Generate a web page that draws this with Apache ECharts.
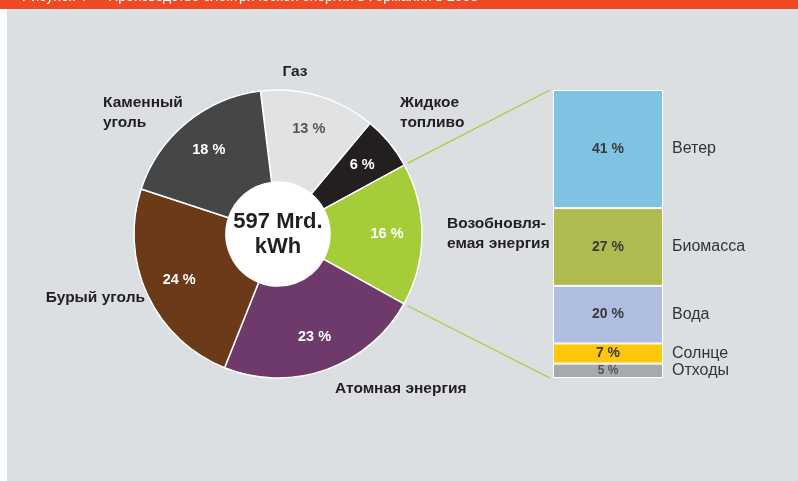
<!DOCTYPE html>
<html>
<head>
<meta charset="utf-8">
<title>echart</title>
<script src="https://cdn.jsdelivr.net/npm/echarts@6/dist/echarts.min.js"></script>
<style>
  html, body { margin: 0; padding: 0; background: #fff; }
  #main { width: 798px; height: 481px; }
</style>
</head>
<body>
<div id="main"></div>
<script>
  // структура производства (%)
  var pieNames = ['Газ', 'Жидкое топливо', 'Возобновляемая энергия', 'Атомная энергия', 'Бурый уголь', 'Каменный уголь'];
  var pieValues = [13, 6, 16, 23, 24, 18];
  var pieColors = ['#e1e2e4', '#231f20', '#a5cd39', '#6d3a6b', '#6b3a18', '#454648'];
  var pieLabelColors = ['#555658', '#fff', '#fff', '#fff', '#fff', '#fff'];

  // возобновляемая энергия, сверху вниз
  var renNames = ['Ветер', 'Биомасса', 'Вода', 'Солнце', 'Отходы'];
  var renValues = [41, 27, 20, 7, 5];
  var renColors = ['#7fc3e2', '#afbb4e', '#aebde0', '#ffc709', '#a7a9ac'];

  var totalText = '597 Mrd.\nkWh';
  var titleText = 'Рисунок 4 — Производство электрической энергии в Германии в 2008';

  var cx = 278, cy = 234, R = 144, R0 = 52, startAngle = 97;
  var gridLeft = 553, gridTop = 90, gridW = 110, gridH = 288;
  var font = 'Liberation Sans, Arial, sans-serif';

  var chart = echarts.init(document.getElementById('main'));

  var pieData = pieNames.map(function (n, i) {
    return { name: n, value: pieValues[i], itemStyle: { color: pieColors[i] } };
  });
  var pieLabelData = pieNames.map(function (n, i) {
    return { name: n, value: pieValues[i], label: { color: pieLabelColors[i] } };
  });

  // столбик: снизу вверх
  var barSeries = [];
  for (var i = renNames.length - 1; i >= 0; i--) {
    barSeries.push({
      type: 'bar',
      name: renNames[i],
      stack: 'ren',
      data: [renValues[i]],
      barWidth: '100%',
      itemStyle: { color: renColors[i], borderColor: '#fff', borderWidth: 1 },
      label: {
        show: true,
        position: 'insideLeft',
        distance: 0,
        formatter: '{p|' + renValues[i] + ' %}{n|' + renNames[i] + '}',
        rich: {
          p: { width: gridW, align: 'center', fontFamily: font, fontWeight: 'bold',
               fontSize: renValues[i] < 6 ? 12 : 14, color: renValues[i] < 6 ? '#555' : '#3a3a3c' },
          n: { padding: [0, 0, 0, 9], fontFamily: font, fontSize: 16, color: '#333' }
        }
      },
      silent: true
    });
  }

  var nameStyle = { fontFamily: font, fontWeight: 'bold', fontSize: 15.5, fill: '#231f20', lineHeight: 20 };
  function txt(x, y, text, align) {
    return { type: 'text', x: x, y: y, z: 10,
      style: Object.assign({ text: text, align: align || 'left', verticalAlign: 'middle' }, nameStyle) };
  }

  var option = {
    animation: false,
    grid: { left: gridLeft, top: gridTop, width: gridW, height: gridH },
    xAxis: { type: 'category', data: [''], show: false },
    yAxis: { type: 'value', min: 0, max: 100, show: false },
    graphic: [
      { type: 'rect', z: -10, shape: { x: 0, y: 0, width: 798, height: 9 }, style: { fill: '#f04923' } },
      { type: 'rect', z: -10, shape: { x: 7, y: 9, width: 791, height: 472 }, style: { fill: '#dcdfe1' } },
      { type: 'text', z: -9, x: 22, y: 4,
        style: { text: titleText, fontFamily: font, fontSize: 14, fill: '#fff', verticalAlign: 'bottom' },
        clipPath: { type: 'rect', shape: { x: -22, y: -4, width: 798, height: 9 } } },
      txt(295, 72, 'Газ', 'center'),
      txt(103, 113, 'Каменный\nуголь'),
      txt(400, 113, 'Жидкое\nтопливо'),
      txt(145, 298, 'Бурый уголь', 'right'),
      txt(335, 389, 'Атомная энергия'),
      txt(447, 234, 'Возобновля-\nемая энергия')
    ],
    series: [
      {
        type: 'pie',
        center: [cx, cy],
        radius: [R0, R],
        startAngle: startAngle,
        clockwise: true,
        label: { show: false },
        labelLine: { show: false },
        itemStyle: { borderColor: '#fff', borderWidth: 1.5 },
        data: pieData,
        silent: true
      },
      {
        // подписи процентов чуть дальше от центра
        type: 'pie',
        center: [cx, cy],
        radius: [68, R],
        startAngle: startAngle,
        clockwise: true,
        itemStyle: { color: 'transparent' },
        label: {
          show: true, position: 'inside', formatter: '{c} %',
          fontFamily: font, fontWeight: 'bold', fontSize: 14.5
        },
        labelLine: { show: false },
        data: pieLabelData,
        silent: true,
        z: 3
      },
      {
        type: 'pie',
        center: [cx, cy],
        radius: [0, R0],
        itemStyle: { color: '#fff' },
        label: {
          show: true, position: 'center', formatter: totalText,
          fontFamily: font, fontWeight: 'bold', fontSize: 22, lineHeight: 25, color: '#231f20'
        },
        labelLine: { show: false },
        data: [{ value: 1, name: 'total' }],
        silent: true,
        z: 4
      }
    ].concat(barSeries)
  };
  chart.setOption(option);

  // линии от сектора возобновляемой энергии к столбику
  var sum = pieValues.reduce(function (a, b) { return a + b; }, 0);
  var idx = pieNames.indexOf('Возобновляемая энергия');
  var before = 0;
  for (var k = 0; k < idx; k++) before += pieValues[k];
  function edge(frac, r) {
    var a = ((90 - startAngle) + 360 * frac) * Math.PI / 180;
    return [cx + r * Math.sin(a), cy - r * Math.cos(a)];
  }
  var p1 = edge(before / sum, R + 4);
  var p2 = edge((before + pieValues[idx]) / sum, R + 4);
  var yTop = chart.convertToPixel({ yAxisIndex: 0 }, 100);
  var yBot = chart.convertToPixel({ yAxisIndex: 0 }, 0);
  var lineStyle = { stroke: '#a5cd39', lineWidth: 1.2 };
  chart.setOption({
    graphic: option.graphic.concat([
      { type: 'line', z: 5, shape: { x1: p1[0], y1: p1[1], x2: gridLeft - 3, y2: yTop }, style: lineStyle },
      { type: 'line', z: 5, shape: { x1: p2[0], y1: p2[1], x2: gridLeft - 3, y2: yBot }, style: lineStyle }
    ])
  });
</script>
</body>
</html>
